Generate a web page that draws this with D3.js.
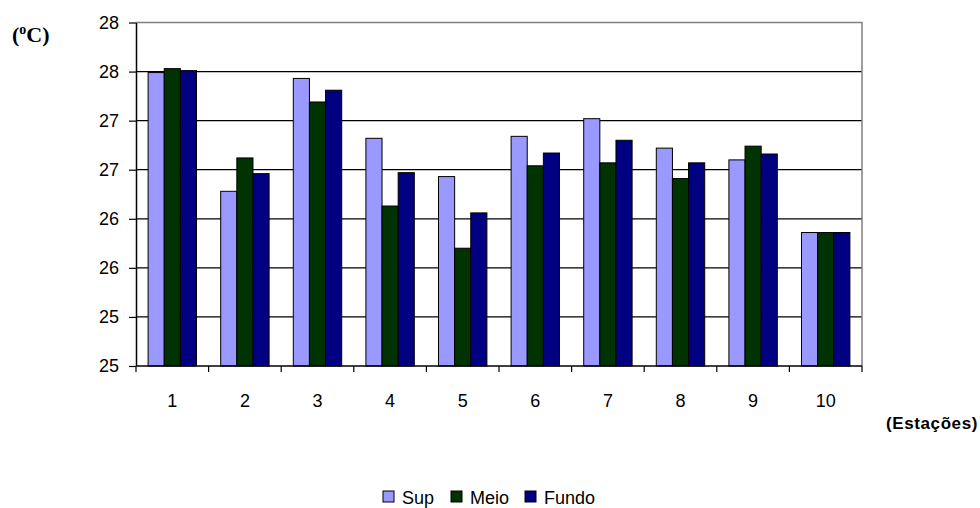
<!DOCTYPE html>
<html>
<head>
<meta charset="utf-8">
<script src="https://cdn.jsdelivr.net/npm/d3@7"></script>
<style>
    body { margin: 0; background: #fff; }
    svg { display: block; }
</style>
</head>
<body>
<div id="chart"></div>
<script>
/*
    Data
*/
const stations = ["1", "2", "3", "4", "5", "6", "7", "8", "9", "10"];
const seriesNames = ["Sup", "Meio", "Fundo"];
const supValues = [27.49, 26.28, 27.43, 26.82, 26.43, 26.84, 27.02, 26.72, 26.60, 25.86];
const meioValues = [27.53, 26.62, 27.19, 26.13, 25.70, 26.54, 26.57, 26.41, 26.74, 25.86];
const fundoValues = [27.51, 26.46, 27.31, 26.47, 26.06, 26.67, 26.80, 26.57, 26.66, 25.86];
const yTickValues = [24.5, 25, 25.5, 26, 26.5, 27, 27.5, 28];
const yTickLabels = ["25", "25", "26", "26", "27", "27", "28", "28"];

/*
    Draw
*/
function main() {
    const width = 980;
    const height = 508;
    const left = 136, right = 862, top = 22.5, bottom = 366;
    const colorMap = { "Sup": "#9999FF", "Meio": "#003300", "Fundo": "#000080" };
    const valuesBySeries = { "Sup": supValues, "Meio": meioValues, "Fundo": fundoValues };

    const svg = d3.select("#chart").append("svg")
        .attr("width", width)
        .attr("height", height);

    const x0 = d3.scaleBand().domain(stations).range([left, right]).padding(0);
    const x1 = d3.scaleBand().domain(seriesNames).range([0, x0.bandwidth()])
        .paddingInner(0).paddingOuter(0.75);
    const y = d3.scaleLinear().domain([24.5, 28]).range([bottom, top]);

    // Gridlines
    svg.append("g").selectAll("line")
        .data(yTickValues.slice(1, -1))
        .enter().append("line")
        .attr("x1", left).attr("x2", right)
        .attr("y1", d => y(d)).attr("y2", d => y(d))
        .attr("stroke", "#000").attr("stroke-width", 1.2);

    // Plot border (top + right in grey)
    svg.append("path")
        .attr("d", `M${left},${y(28)}H${right}V${bottom}`)
        .attr("fill", "none")
        .attr("stroke", "#808080")
        .attr("stroke-width", 1.5);

    // Bars
    const groups = svg.selectAll(".grp")
        .data(stations)
        .enter().append("g")
        .attr("class", "grp")
        .attr("transform", d => `translate(${x0(d)},0)`);
    groups.selectAll("rect")
        .data((d, i) => seriesNames.map(s => ({ s: s, v: valuesBySeries[s][i] })))
        .enter().append("rect")
        .attr("x", d => x1(d.s))
        .attr("y", d => y(d.v))
        .attr("width", x1.bandwidth())
        .attr("height", d => y(24.5) - y(d.v))
        .attr("fill", d => colorMap[d.s])
        .attr("stroke", "#000")
        .attr("stroke-width", 1);

    // Y axis
    const yAxis = d3.axisLeft(y)
        .tickValues(yTickValues)
        .tickFormat((d, i) => yTickLabels[i])
        .tickSizeInner(7).tickSizeOuter(0).tickPadding(10);
    const gy = svg.append("g")
        .attr("transform", `translate(${left},0)`)
        .call(yAxis);
    gy.select(".domain").attr("stroke", "#000").attr("stroke-width", 1.5);
    gy.selectAll(".tick line").attr("stroke", "#000").attr("stroke-width", 1.2);
    gy.selectAll("text")
        .style("font-family", "'Liberation Sans', Arial, sans-serif")
        .style("font-size", "18px")
        .attr("fill", "#000");

    // X axis (ticks between categories)
    const gx = svg.append("g")
        .attr("transform", `translate(0,${bottom})`);
    gx.append("line")
        .attr("x1", left).attr("x2", right)
        .attr("stroke", "#000").attr("stroke-width", 1.5);
    gx.selectAll(".xt")
        .data(stations.concat(["end"]))
        .enter().append("line")
        .attr("class", "xt")
        .attr("x1", (d, i) => i < stations.length ? x0(d) : right)
        .attr("x2", (d, i) => i < stations.length ? x0(d) : right)
        .attr("y1", 0).attr("y2", 6)
        .attr("stroke", "#000").attr("stroke-width", 1.2);
    gx.selectAll(".xl")
        .data(stations)
        .enter().append("text")
        .attr("class", "xl")
        .attr("x", d => x0(d) + x0.bandwidth() / 2)
        .attr("y", 41)
        .attr("text-anchor", "middle")
        .style("font-family", "'Liberation Sans', Arial, sans-serif")
        .style("font-size", "18px")
        .text(d => d);

    // Axis titles
    const unit = svg.append("text")
        .attr("x", 12).attr("y", 42)
        .style("font-family", "'Liberation Serif', 'Times New Roman', serif")
        .style("font-size", "22px")
        .style("font-weight", "bold");
    unit.append("tspan").text("(");
    unit.append("tspan").attr("dy", -8).style("font-size", "14px").text("o");
    unit.append("tspan").attr("dy", 8).text("C)");

    svg.append("text")
        .attr("x", 978).attr("y", 429)
        .attr("text-anchor", "end")
        .style("font-family", "'Liberation Sans', Arial, sans-serif")
        .style("font-size", "17px")
        .style("font-weight", "bold")
        .style("letter-spacing", "0.6px")
        .text("(Estações)");

    // Legend
    const legendItems = [
        { s: "Sup", x: 383 },
        { s: "Meio", x: 451 },
        { s: "Fundo", x: 525 }
    ];
    const lg = svg.append("g");
    lg.selectAll("rect")
        .data(legendItems)
        .enter().append("rect")
        .attr("x", d => d.x).attr("y", 491)
        .attr("width", 11).attr("height", 11)
        .attr("fill", d => colorMap[d.s])
        .attr("stroke", "#000").attr("stroke-width", 1);
    lg.selectAll("text")
        .data(legendItems)
        .enter().append("text")
        .attr("x", d => d.x + 19).attr("y", 504)
        .style("font-family", "'Liberation Sans', Arial, sans-serif")
        .style("font-size", "18px")
        .text(d => d.s);
}

main()
</script>
</body>
</html>
